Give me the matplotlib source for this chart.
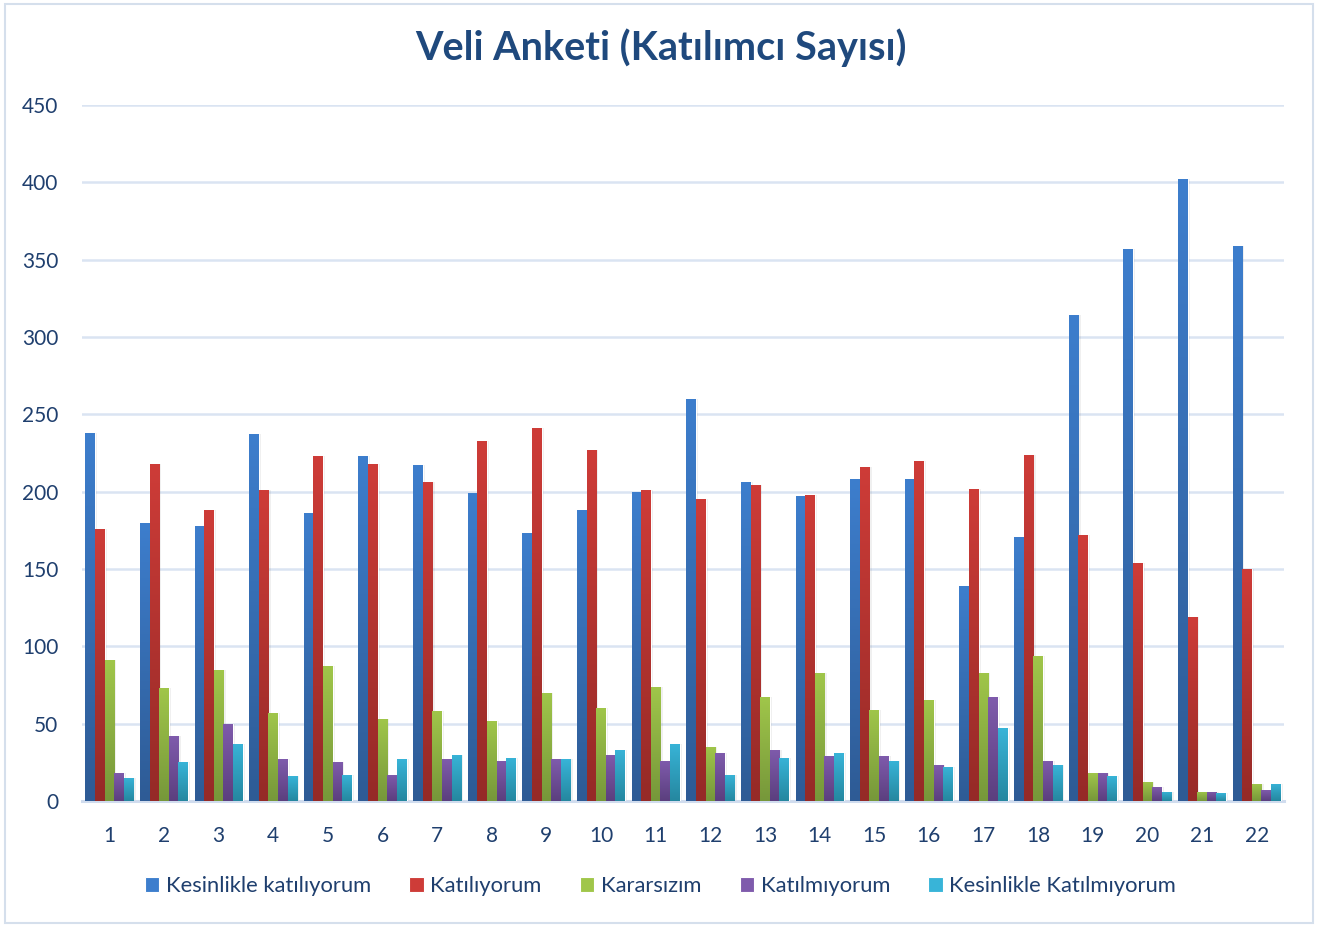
import numpy as np
import matplotlib
matplotlib.use("Agg")
import matplotlib.pyplot as plt
from matplotlib.patches import Rectangle
from matplotlib.colors import LinearSegmentedColormap

categories = [str(i) for i in range(1, 23)]
series_names = ["Kesinlikle katılıyorum", "Katılıyorum", "Kararsızım",
                "Katılmıyorum", "Kesinlikle Katılmıyorum"]
kesinlikle_katiliyorum = [238, 180, 178, 237, 186, 223, 217, 199, 173, 188, 200,
                          260, 206, 197, 208, 208, 139, 171, 314, 357, 402, 359]
katiliyorum = [176, 218, 188, 201, 223, 218, 206, 233, 241, 227, 201,
               195, 204, 198, 216, 220, 202, 224, 172, 154, 119, 150]
kararsizim = [91, 73, 85, 57, 87, 53, 58, 52, 70, 60, 74,
              35, 67, 83, 59, 65, 83, 94, 18, 12, 6, 11]
katilmiyorum = [18, 42, 50, 27, 25, 17, 27, 26, 27, 30, 26,
                31, 33, 29, 29, 23, 67, 26, 18, 9, 6, 7]
kesinlikle_katilmiyorum = [15, 25, 37, 16, 17, 27, 30, 28, 27, 33, 37,
                           17, 28, 31, 26, 22, 47, 23, 16, 6, 5, 11]
yticks = [0, 50, 100, 150, 200, 250, 300, 350, 400, 450]

series = [kesinlikle_katiliyorum, katiliyorum, kararsizim, katilmiyorum, kesinlikle_katilmiyorum]
tops = ["#3D7ECD", "#CE3C38", "#A0C64A", "#7F5BAC", "#38B4D8"]
bottoms = ["#2E5B95", "#952A27", "#76973A", "#5B3F7E", "#25879F"]

plt.rcParams['font.family'] = ['Lato', 'DejaVu Sans']
txt = "#1F3F6E"

fig = plt.figure(figsize=(13.21, 9.27), dpi=100)
fig.patches.append(Rectangle((5/1321, 4/927), 1308/1321, 919/927, transform=fig.transFigure,
                             fill=False, edgecolor="#D5DFEC", linewidth=1.5))
ax = fig.add_axes([82/1321, 1 - 801/927, 1202/1321, 696/927])

x = np.arange(len(categories))
w = 0.176
n = len(series)
grad = np.linspace(0, 1, 256).reshape(-1, 1)
for i, (vals, name) in enumerate(zip(series, series_names)):
    offs = (i - (n - 1) / 2) * w
    bars = ax.bar(x + offs, vals, width=w, color=tops[i], edgecolor="white",
                  linewidth=0.8, label=name, zorder=3)
    cmap = LinearSegmentedColormap.from_list("g%d" % i, [bottoms[i], tops[i]])
    for b in bars:
        bx, by = b.get_x(), b.get_y()
        bw, bh = b.get_width(), b.get_height()
        ax.add_patch(Rectangle((bx + bw, by), 0.04, bh, facecolor="#000000",
                               alpha=0.06, linewidth=0, zorder=2))
        im = ax.imshow(grad, extent=[bx, bx + bw, by, by + bh], origin="lower",
                       cmap=cmap, aspect="auto", zorder=3.5)
        im.set_clip_path(b)

ax.set_xlim(-0.5, len(categories) - 0.5)
ax.set_ylim(0, 450)
ax.set_yticks(yticks)
ax.set_yticklabels([str(t) for t in yticks])
ax.set_xticks(x)
ax.set_xticklabels(categories)
ax.tick_params(axis="both", length=0, labelsize=15, colors=txt)
ax.tick_params(axis="x", pad=18)
ax.tick_params(axis="y", pad=17)
ax.yaxis.grid(True, color="#DAE4F2", linewidth=1.8, zorder=0)
ax.set_axisbelow(True)
for s in ["top", "right", "left"]:
    ax.spines[s].set_visible(False)
ax.spines["bottom"].set_color("#D0DCEE")
ax.spines["bottom"].set_linewidth(2.2)

fig.text(0.5, 1 - 48/927, "Veli Anketi (Katılımcı Sayısı)", ha="center", va="center",
         fontsize=28.5, fontweight="bold", color="#1F497D")

leg = fig.legend(loc="center", bbox_to_anchor=(0.5, 1 - 886/927), ncol=5, frameon=False,
                 fontsize=15.8, handlelength=0.65, handleheight=0.65, handletextpad=0.3,
                 columnspacing=1.75)
for t in leg.get_texts():
    t.set_color(txt)

fig.savefig("out.png", dpi=100)
